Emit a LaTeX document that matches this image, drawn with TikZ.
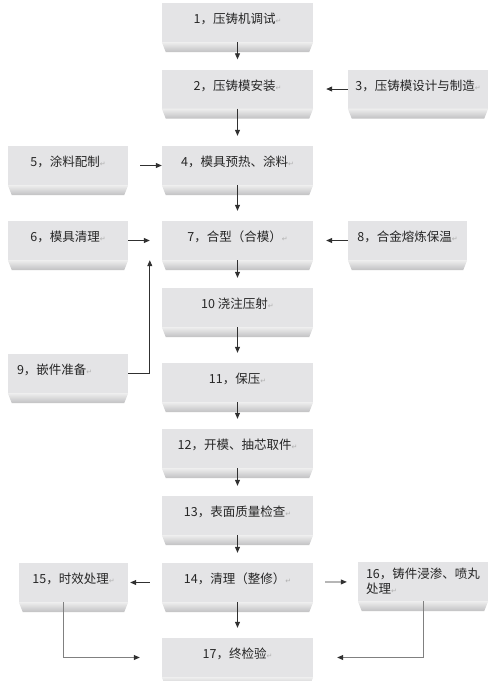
\documentclass[tikz,border=0pt]{standalone}
\usepackage{fontspec}
\setmainfont{Noto Sans CJK SC}
\newfontfamily\dejavu{DejaVu Sans}
\usetikzlibrary{arrows.meta,positioning}
\definecolor{boxface}{HTML}{E4E4E6}
\definecolor{bevtop}{HTML}{EEEEEE}
\definecolor{bevbot}{HTML}{C0C0C2}
\definecolor{flowline}{HTML}{303030}
\definecolor{backline}{HTML}{808080}
\definecolor{retmark}{HTML}{B0B0B0}
\newcommand{\ret}{{\dejavu\fontsize{7}{7}\selectfont\color{retmark}↵}}

\begin{document}
\begin{tikzpicture}[x=1pt,y=1pt,->,>={Triangle[length=6pt,width=5pt]}]
\tikzstyle{box}=[fill=boxface,minimum width=151pt,minimum height=39pt,inner sep=0pt,
    text height=10pt,text depth=8pt,font=\fontsize{12.5}{15}\selectfont,text=black!85]
\tikzstyle{side}=[box,minimum width=120pt]
\tikzstyle{flow}=[draw=flowline,line width=0.8pt]
\tikzstyle{back}=[draw=backline,line width=0.8pt,-{Triangle[length=6pt,width=5pt,color=flowline]}]

\useasboundingbox (0,0) rectangle (500,-681);

\node[box]
    (b1) at (237.5,-22.5) {1，压铸机调试\ret};
\node[box]
    (b2) [below of=b1, node distance=66.5pt] {2，压铸模安装\ret};
\node[side,minimum width=140pt]
    (b3) [right of=b2, node distance=180.5pt] {3，压铸模设计与制造\ret};
\node[box]
    (b4) [below of=b2, node distance=76.5pt] {4，模具预热、涂料\ret};
\node[side]
    (b5) [left of=b4, node distance=169.5pt] {5，涂料配制\ret};
\node[box]
    (b7) [below of=b4, node distance=75pt] {7，合型（合模）\ret};
\node[side]
    (b6) [left of=b7, node distance=169.5pt] {6，模具清理\ret};
\node[side,minimum width=119pt]
    (b8) [right of=b7, node distance=170pt] {8，合金熔炼保温\ret};
\node[box]
    (b10) [below of=b7, node distance=67pt] {10 浇注压射\ret};
\node[box]
    (b11) [below of=b10, node distance=75pt] {11，保压\ret};
\node[side,text width=102pt,align=left]
    (b9) [left of=b11, node distance=169.5pt, yshift=9pt] {9，嵌件准备\ret};
\node[box]
    (b12) [below of=b11, node distance=66pt] {12，开模、抽芯取件\ret};
\node[box]
    (b13) [below of=b12, node distance=67pt] {13，表面质量检查\ret};
\node[box]
    (b14) [below of=b13, node distance=67pt] {14，清理（整修）\ret};
\node[side,minimum width=109pt]
    (b15) [left of=b14, node distance=164pt] {15，时效处理\ret};
\node[side,minimum width=130pt,text width=114pt,align=left,text height=,text depth=,yshift=1pt]
    (b16) [right of=b14, node distance=185.5pt] {16，铸件浸渗、喷丸\\处理\ret};
\node[box]
    (b17) [below of=b14, node distance=75pt] {17，终检验\ret};

% bevelled lower edge of every box
\foreach \n in {1,...,17}
  \shade[top color=bevtop,bottom color=bevbot]
    (b\n.south west) -- (b\n.south east) -- ([xshift=-4pt,yshift=-10pt]b\n.south east)
    -- ([xshift=4pt,yshift=-10pt]b\n.south west) -- cycle;

% main column
\foreach \a/\b in {1/2,2/4,4/7,7/10,10/11,11/12,12/13,13/14,14/17}
  \draw[flow,shorten >=10pt] (b\a.south) -- (b\b.north);

\path (b3)  edge [flow,shorten >=13pt]                 (b2)
      (b5)  edge [flow,shorten <=12pt]                 (b4)
      (b6)  edge [flow,shorten >=12pt]                 (b7)
      (b8)  edge [flow,shorten >=13pt]                 (b7)
      (b14) edge [flow,shorten <=12pt,shorten >=2pt]   (b15)
            edge [flow,shorten <=12pt,shorten >=11pt]  (b16)
;
\draw[flow] (b9.east) -| ([xshift=-12pt]b7.south west);
\draw[back] ([xshift=-10pt]b15.south) |- ([xshift=-22pt]b17.west);
\draw[back] (b16.south) |- ([xshift=24pt]b17.east);
\end{tikzpicture}
\end{document}
